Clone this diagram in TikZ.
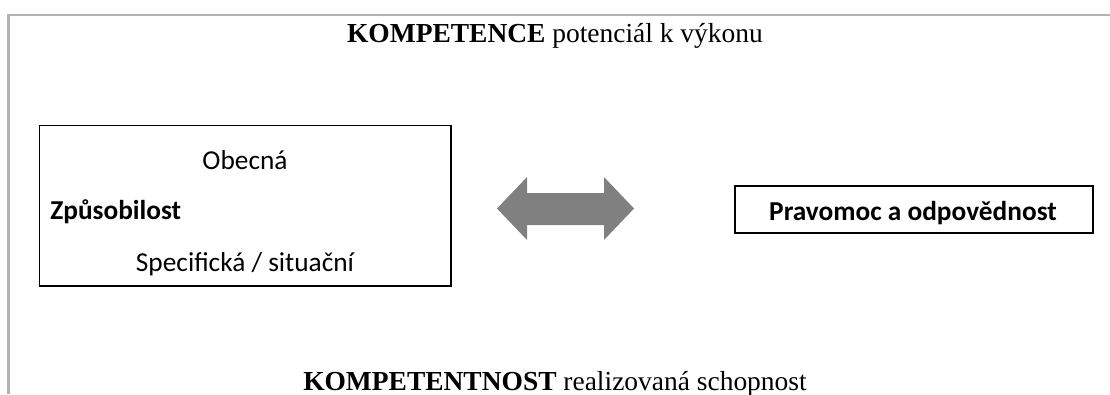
\documentclass[tikz,border=0pt]{standalone}
\usepackage{fontspec}
\setmainfont{Liberation Serif}
\newfontfamily\calfont{Carlito}
\begin{document}
\begin{tikzpicture}[x=0.75pt,y=-0.75pt,
  box/.style={draw=black, line width=1.2pt, inner sep=0pt},
  caltext/.style={font=\calfont\fontsize{20.5pt}{24pt}\selectfont, inner sep=0pt},
  serif/.style={font=\fontsize{20.6pt}{24pt}\selectfont, inner sep=0pt},
  frameline/.style={draw=black!30, line width=1.6pt}]
\useasboundingbox (0,0) rectangle (1110,394);
% outer frame
\coordinate (fb) at (8.5,394);
\coordinate (fc) at (8.5,15);
\coordinate (fr) at (1110,15);
\draw[frameline] (fb) -- (fc) -- (fr);
% title and bottom text
\node[serif, anchor=base] (title) at (555,42) {\textbf{KOMPETENCE} potenciál k výkonu};
\node[serif, anchor=base] (bottom) at (555,390) {\textbf{KOMPETENTNOST} realizovaná schopnost};
% left box
\node[box, anchor=north west, minimum width=308.6pt, minimum height=120.4pt] (left) at (38.5,124.5) {};
\node[caltext, anchor=base] (obecna) at (245,169) {Obecná};
\node[caltext, anchor=base west] (zpus) at (50,219) {\bfseries Způsobilost};
\node[caltext, anchor=base] (spec) at (245,271) {Specifická / situační};
% double arrow
\fill[fill=black!50] (497,208.5) -- (527,177) -- (527,193) -- (604,193) -- (604,177)
  -- (634,208.5) -- (604,240) -- (604,225) -- (527,225) -- (527,240) -- cycle;
% right box
\node[box, anchor=north west, minimum width=268.5pt, minimum height=35.25pt] (right) at (734,185) {};
\node[caltext, anchor=base] (prav) at (913,220) {\bfseries Pravomoc a odpovědnost};
\end{tikzpicture}
\end{document}
